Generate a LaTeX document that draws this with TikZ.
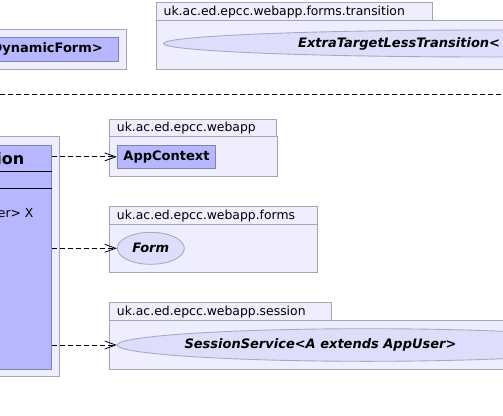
\documentclass[tikz,border=0pt]{standalone}
\usepackage{fontspec}
\setmainfont{DejaVu Sans}[BoldFont={DejaVu Sans Bold},ItalicFont={DejaVu Sans Oblique},BoldItalicFont={DejaVu Sans Bold Oblique}]
\usetikzlibrary{shapes.geometric,arrows.meta}
\definecolor{pkgfill}{RGB}{238,238,255}
\definecolor{pkgborder}{RGB}{165,165,180}
\definecolor{clsfill}{RGB}{183,183,255}
\definecolor{clsborder}{RGB}{130,130,180}
\definecolor{ellfill}{RGB}{221,221,252}
\definecolor{ellborder}{RGB}{168,168,200}
\tikzset{
  pkg/.style={draw=pkgborder, fill=pkgfill, line width=0.9pt},
  pkglabel/.style={font=\fontsize{12.4}{14}\selectfont, inner sep=0pt, anchor=west, text=black},
  clsbox/.style={draw=clsborder, fill=clsfill, line width=0.9pt, rectangle, inner sep=0pt},
  ellbox/.style={draw=ellborder, fill=ellfill, line width=0.9pt, ellipse, inner sep=0pt},
  cname/.style={font=\fontsize{13}{15}\selectfont\bfseries, inner sep=0pt},
  aname/.style={font=\fontsize{13}{15}\selectfont\bfseries\itshape, inner sep=0pt},
  dep/.style={dash pattern=on 5pt off 3pt, line width=0.8pt, -{Straight Barb[length=11pt,width=8pt]}},
  sep/.style={draw=black, line width=0.8pt},
}
\begin{document}
\begin{tikzpicture}[x=1pt,y=-1pt]
\useasboundingbox (0,0) rectangle (503,415);
\clip (0,0) rectangle (503,415);

% top-left package
\draw[pkg] (-10,29.3) rectangle (126.7,69);
\node[clsbox, anchor=north east, minimum width=140pt, minimum height=23.7pt] (dyn) at (119,37.3) {};
\node[cname, anchor=east] (dynlbl) at (103,49.3) {DynamicForm>};

% transition package
\draw[pkg] (156.7,2.7) rectangle (432.7,20.7);
\draw[pkg] (156.7,20.7) rectangle (520,69);
\node[pkglabel] (transpkg) at (163.5,11.9) {uk.ac.ed.epcc.webapp.forms.transition};
\node[ellbox, minimum width=653pt, minimum height=27pt] (trans) at (490,43.5) {};
\node[aname, anchor=west] (translbl) at (298,43.5) {ExtraTargetLessTransition<};

% separator
\coordinate (sepL) at (0,94);
\coordinate (sepR) at (503,94);
\draw[dash pattern=on 5pt off 3pt, line width=0.8pt] (sepL) -- (sepR);

% big left package with class
\draw[pkg] (-10,136.7) rectangle (59.3,376.7);
\node[clsbox, anchor=north east, minimum width=160pt, minimum height=224.3pt] (cls) at (51.7,145) {};
\draw[sep] (-10,171.7) -- (51.7,171.7);
\draw[sep] (-10,188.3) -- (51.7,188.3);
\node[font=\fontsize{16}{18}\selectfont\bfseries, inner sep=0pt, anchor=east] (clshead) at (24.5,158.5) {ion};
\node[font=\fontsize{12.4}{14}\selectfont, inner sep=0pt, anchor=east] (clsattr) at (33.7,213) {er> X};

% webapp package
\draw[pkg] (109.3,119.3) rectangle (276.7,136);
\draw[pkg] (109.3,136) rectangle (277.7,176.3);
\node[pkglabel] (apppkg) at (116.7,127.9) {uk.ac.ed.epcc.webapp};
\node[clsbox, minimum width=98.4pt, minimum height=23.7pt] (app) at (166.5,156.85) {};
\node[cname] (applbl) at (app.center) {AppContext};

% forms package
\draw[pkg] (109.3,206.7) rectangle (317.3,224.3);
\draw[pkg] (109.3,224.3) rectangle (317.3,272.3);
\node[pkglabel] (formpkg) at (116.7,215.7) {uk.ac.ed.epcc.webapp.forms};
\node[ellbox, minimum width=67pt, minimum height=32pt] (form) at (150.8,248.3) {};
\node[aname] (formlbl) at (form.center) {Form};

% session package
\draw[pkg] (109.3,302.7) rectangle (331.7,320.7);
\draw[pkg] (109.3,320.7) rectangle (520,369.3);
\node[pkglabel] (sesspkg) at (116.7,311.9) {uk.ac.ed.epcc.webapp.session};
\node[ellbox, minimum width=500pt, minimum height=32.6pt] (sess) at (367.3,345) {};
\node[aname] (sesslbl) at (320.5,345) {SessionService<A extends AppUser>};

% dependencies
\draw[dep] (cls.east |- app.west) -- (app.west);
\draw[dep] (cls.east |- form.west) -- (form.west);
\draw[dep] (cls.east |- sess.west) -- (sess.west);
\end{tikzpicture}
\end{document}
